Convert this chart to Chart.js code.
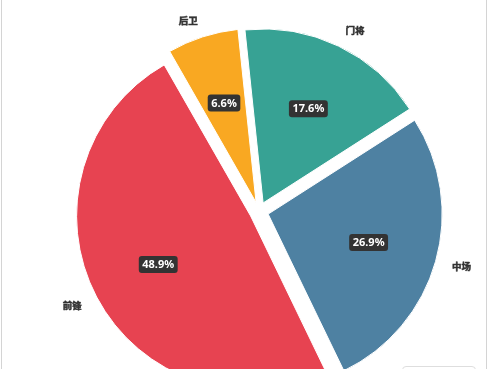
<!DOCTYPE html>
<html>
<head>
    <title>球队位置分布</title>
    <script src="https://cdn.jsdelivr.net/npm/chart.js@4"></script>
    <style>
        html, body {
            margin: 0;
            padding: 0;
            background: #fff;
            overflow: hidden;
            width: 489px;
            height: 369px;
        }
        .frame {
            position: absolute;
            left: 1px;
            top: 0;
            width: 484px;
            height: 369px;
            border-left: 1px solid #d4d4d4;
            border-right: 1px solid #d4d4d4;
            pointer-events: none;
        }
        .chart-box {
            position: absolute;
            left: 0;
            top: 0;
            width: 489px;
            height: 430px;
        }
        .corner-box {
            position: absolute;
            left: 402px;
            top: 366px;
            width: 72px;
            height: 20px;
            border: 1px solid #dedede;
            border-radius: 4px;
            background: #fff;
        }
    </style>
</head>
<body>
    <div class="chart-box"><canvas id="positionChart"></canvas></div>
    <div class="frame"></div>
    <div class="corner-box"></div>
    <script>
        // 各位置人数占比 (%)
        const positions = ["门将", "中场", "前锋", "后卫"];
        const shares = [17.6, 26.9, 48.9, 6.6];
        const sliceColors = ["#37a294", "#4e81a2", "#e74351", "#f9a822"];

        const SHIFT = 9.5; // how far every slice is pulled out

        // Pull each slice out along its middle angle without growing the big ones
        const explodeSlices = {
            id: "explodeSlices",
            beforeDatasetDraw(chart, args) {
                const ctx = chart.ctx;
                args.meta.data.forEach(arc => {
                    const mid = (arc.startAngle + arc.endAngle) / 2;
                    ctx.save();
                    ctx.translate(Math.cos(mid) * SHIFT, Math.sin(mid) * SHIFT);
                    arc.draw(ctx);
                    ctx.restore();
                });
                return false;
            }
        };

        // Draws the percentage badges inside and the names outside each slice
        const sliceLabels = {
            id: "sliceLabels",
            afterDatasetsDraw(chart) {
                const ctx = chart.ctx;
                const arcs = chart.getDatasetMeta(0).data;
                ctx.save();
                arcs.forEach((arc, i) => {
                    const mid = (arc.startAngle + arc.endAngle) / 2;
                    const dx = Math.cos(mid);
                    const dy = Math.sin(mid);
                    const r = arc.outerRadius;

                    // percentage badge
                    const text = shares[i].toFixed(1) + "%";
                    const px = arc.x + dx * (SHIFT + r * 0.6);
                    const py = arc.y + dy * (SHIFT + r * 0.6);
                    ctx.font = "bold 11px 'Noto Sans', sans-serif";
                    const w = ctx.measureText(text).width + 7;
                    const h = 17;
                    ctx.fillStyle = "#333333";
                    ctx.beginPath();
                    ctx.roundRect(px - w / 2, py - h / 2, w, h, 3);
                    ctx.fill();
                    ctx.fillStyle = "#ffffff";
                    ctx.textAlign = "center";
                    ctx.textBaseline = "middle";
                    ctx.fillText(text, px, py + 0.5);

                    // position name, nudged outward by half its width
                    const d = r + 27;
                    const lx = arc.x + dx * d + Math.sign(dx) * 9;
                    const ly = arc.y + dy * d;
                    ctx.font = "bold 9.5px 'Noto Sans CJK SC', sans-serif";
                    ctx.fillStyle = "#333333";
                    ctx.strokeStyle = "#333333";
                    ctx.lineWidth = 0.5;
                    ctx.fillText(positions[i], lx, ly);
                    ctx.strokeText(positions[i], lx, ly);
                });
                ctx.restore();
            }
        };

        const ctx = document.getElementById("positionChart").getContext("2d");
        new Chart(ctx, {
            type: "pie",
            data: {
                labels: positions,
                datasets: [
                    {
                        data: shares,
                        backgroundColor: sliceColors,
                        borderColor: "#ffffff",
                        borderWidth: 1
                    }
                ]
            },
            options: {
                responsive: true,
                maintainAspectRatio: false,
                animation: false,
                rotation: -6,
                layout: {
                    padding: { top: 37, bottom: 44, left: 40, right: 11 }
                },
                plugins: {
                    legend: { display: false },
                    tooltip: { enabled: false }
                }
            },
            plugins: [explodeSlices, sliceLabels]
        });
    </script>
</body>
</html>
